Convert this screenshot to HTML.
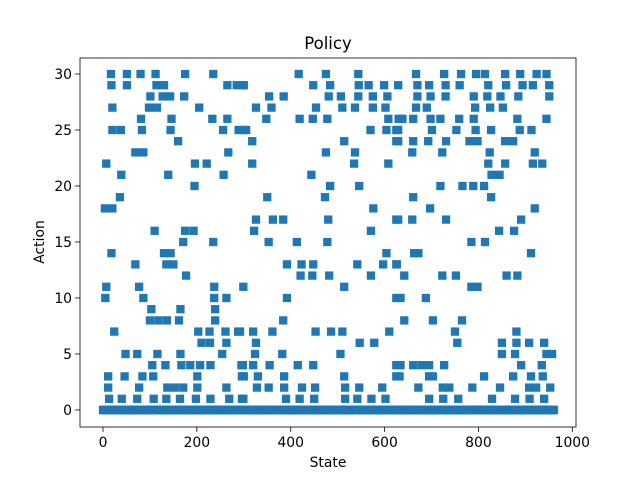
<!DOCTYPE html>
<html><head><meta charset="utf-8"><style>
html,body{margin:0;padding:0;background:#fff;}
svg{display:block;font-family:"DejaVu Sans","Liberation Sans",sans-serif;}
</style></head><body>
<svg id="chart" width="640" height="480" viewBox="0 0 640 480">
<rect x="0" y="0" width="640" height="480" fill="#fff"/>
<text x="328" y="49" font-size="16.5" text-anchor="middle" fill="#000">Policy</text>
<text x="328" y="467" font-size="13.9" text-anchor="middle" fill="#000">State</text>
<text x="0" y="0" font-size="13.9" text-anchor="middle" fill="#000" transform="translate(44,242) rotate(-90)">Action</text>
<g id="marks"></g>
<g id="axes"></g>
</svg>
<script>
const numStates = 962;
const actionLevels = [30,29,28,27,26,25,24,23,22,21,20,19,18,17,16,15,14,13,12,11,10,9,8,7,6,5,4,3,2,1];
const statesByLevel = [
[17,51,80,112,175,235,417,475,544,667,727,763,795,814,857,889,924,945],
[18,51,114,130,265,285,298,300,448,484,545,566,599,629,670,695,730,760,821,859,894,916,951],
[101,127,143,173,354,385,481,507,544,575,606,670,698,730,790,819,847,885,951],
[20,98,115,205,326,359,454,510,537,575,602,667,690,793,825,852],
[81,146,233,265,348,419,447,478,608,630,638,661,698,719,759,790,883,945],
[20,38,83,144,256,289,300,305,570,604,625,629,701,753,794,827,888,913],
[160,318,514,625,629,661,693,731,781,798,857,874],
[69,86,267,475,537,659,723,824,920],
[7,196,221,318,535,608,821,857,916,936],
[39,139,257,444,828,845],
[195,484,546,719,766,789,812],
[36,350,473,661,827],
[4,20,576,697,920],
[326,362,384,480,625,629,659,731,891],
[110,175,193,322,571,844,876],
[171,235,353,413,478,785,814],
[18,130,144,604,663,672,912],
[69,135,150,392,423,448,542,597,625,626],
[177,421,446,482,571,642,723,752,860,883],
[7,77,237,299,514,785,798],
[5,86,237,263,392,625,634,688],
[103,165,239],
[100,118,136,162,239,384,642,703,765],
[24,203,227,261,288,292,320,361,453,486,510,610,750,881],
[210,228,263,326,547,578,755,850,881,908,940],
[48,73,116,165,254,324,382,506,850,878,945,957],
[105,133,167,186,207,229,295,298,320,355,415,448,625,634,661,679,695,727,891,935],
[11,46,84,107,201,296,300,330,386,514,625,632,695,703,812,874,912,937],
[11,77,137,153,171,201,263,328,353,386,424,452,516,546,595,672,724,738,787,846,908,923,953],
[13,40,73,108,135,164,198,229,269,296,299,390,419,450,516,542,572,602,695,725,757,829,878,909,940]
];
const xTicks = [0,200,400,600,800,1000];
const yTicks = [0,5,10,15,20,25,30];

const NS='http://www.w3.org/2000/svg';
const plot = {left:80, right:576, top:58, bottom:427};
const xMin=-49.0, xMax=1007.9, yMin=-1.52, yMax=31.43;
function xScale(v){return plot.left + (v - xMin)/(xMax - xMin)*(plot.right-plot.left);}
function yScale(v){return plot.bottom - (v - yMin)/(yMax - yMin)*(plot.bottom-plot.top);}

const marks=document.getElementById('marks');
const nonzero=new Set();
statesByLevel.forEach(a=>a.forEach(s=>nonzero.add(s)));
function addPoint(s,a){
  const r=document.createElementNS(NS,'rect');
  r.setAttribute('x',(xScale(s)-4.15).toFixed(2));
  r.setAttribute('y',(yScale(a)-4.15).toFixed(2));
  r.setAttribute('width',8.3);r.setAttribute('height',8.3);
  r.setAttribute('fill','#1f77b4');
  
  
  marks.appendChild(r);
}
for(let s=0;s<numStates;s++){ if(!nonzero.has(s)) addPoint(s,0); }
actionLevels.forEach((a,i)=>statesByLevel[i].forEach(s=>addPoint(s,a)));

const axes=document.getElementById('axes');
const frame=document.createElementNS(NS,'rect');
frame.setAttribute('x',plot.left);frame.setAttribute('y',plot.top);
frame.setAttribute('width',plot.right-plot.left);frame.setAttribute('height',plot.bottom-plot.top);
frame.setAttribute('fill','none');frame.setAttribute('stroke','#000');frame.setAttribute('stroke-width','0.8');


axes.appendChild(frame);
xTicks.forEach(t=>{
  const x=xScale(t);
  const l=document.createElementNS(NS,'line');
  l.setAttribute('x1',x);l.setAttribute('x2',x);l.setAttribute('y1',plot.bottom);l.setAttribute('y2',plot.bottom+4.9);
  l.setAttribute('stroke','#000');l.setAttribute('stroke-width','0.8');
  
  
  axes.appendChild(l);
  const tx=document.createElementNS(NS,'text');
  tx.setAttribute('x',x);tx.setAttribute('y',plot.bottom+20);
  tx.setAttribute('font-size','13.9');tx.setAttribute('text-anchor','middle');
  tx.textContent=t;
  
  
  axes.appendChild(tx);
});
yTicks.forEach(t=>{
  const y=yScale(t);
  const l=document.createElementNS(NS,'line');
  l.setAttribute('x1',plot.left-4.9);l.setAttribute('x2',plot.left);l.setAttribute('y1',y);l.setAttribute('y2',y);
  l.setAttribute('stroke','#000');l.setAttribute('stroke-width','0.8');
  
  
  axes.appendChild(l);
  const tx=document.createElementNS(NS,'text');
  tx.setAttribute('x',plot.left-8);tx.setAttribute('y',y+5);
  tx.setAttribute('font-size','13.9');tx.setAttribute('text-anchor','end');
  tx.textContent=t;
  
  
  axes.appendChild(tx);
});
</script>
</body></html>
